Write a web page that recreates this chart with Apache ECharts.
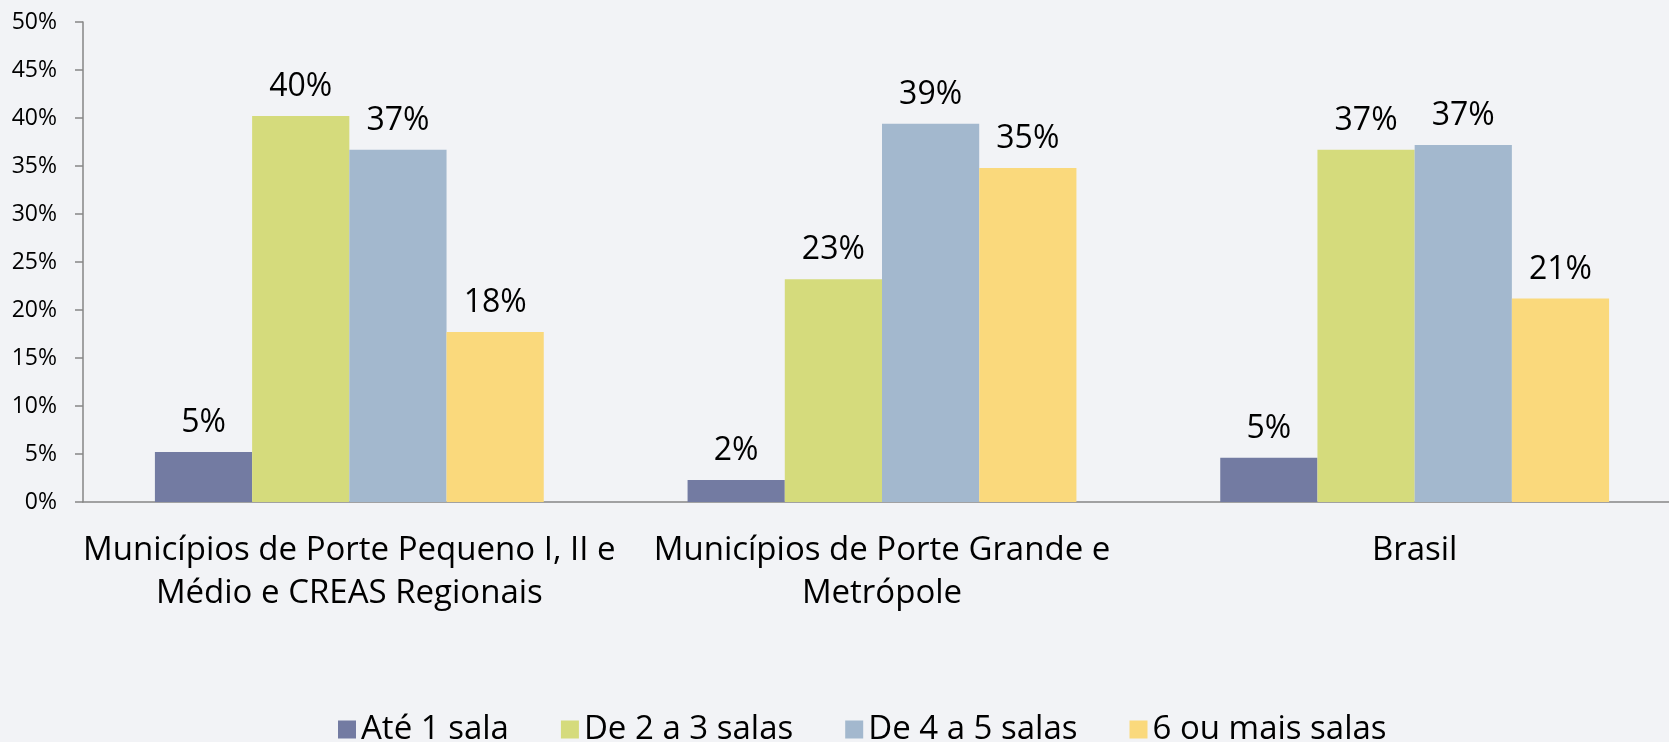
<!DOCTYPE html>
<html>
<head>
<meta charset="utf-8">
<script src="https://cdn.jsdelivr.net/npm/echarts@6/dist/echarts.min.js"></script>
<style>
  html, body { margin: 0; padding: 0; background: #f2f3f6; }
  #chart { width: 1669px; height: 742px; }
</style>
</head>
<body>
<div id="chart"></div>
<script>
const categories = [
  "Municípios de Porte Pequeno I, II e\nMédio e CREAS Regionais",
  "Municípios de Porte Grande e\nMetrópole",
  "Brasil"
];
const seriesNames = ["Até 1 sala", "De 2 a 3 salas", "De 4 a 5 salas", "6 ou mais salas"];
const ate1 = [5.2, 2.3, 4.6];
const de2a3 = [40.2, 23.2, 36.7];
const de4a5 = [36.7, 39.4, 37.2];
const seisMais = [17.7, 34.8, 21.2];
const labels = [
  ["5%", "2%", "5%"],
  ["40%", "23%", "37%"],
  ["37%", "39%", "37%"],
  ["18%", "35%", "21%"]
];
const colors = ["#737ba2", "#d5db7c", "#a3b8ce", "#fad97c"];

const font = "'Open Sans', sans-serif";
const chart = echarts.init(document.getElementById("chart"));

const values = [ate1, de2a3, de4a5, seisMais];

chart.setOption({
  backgroundColor: "#f2f3f6",
  animation: false,
  grid: { left: 83, width: 1598, top: 22, bottom: 240, outerBoundsMode: "none" },
  legend: {
    data: seriesNames,
    bottom: -9,
    left: 333,
    itemWidth: 18,
    itemHeight: 18,
    itemGap: 52,
    icon: "rect",
    textStyle: { fontFamily: font, fontSize: 33, color: "#000" }
  },
  xAxis: {
    type: "category",
    data: categories,
    axisLine: { lineStyle: { color: "#868686", width: 1.5 } },
    axisTick: { length: 13, lineStyle: { color: "#868686", width: 1.5 } },
    axisLabel: {
      fontFamily: font, fontSize: 33, color: "#000",
      margin: 27, lineHeight: 43, interval: 0
    }
  },
  yAxis: {
    type: "value",
    min: 0,
    max: 50,
    interval: 5,
    splitLine: { show: false },
    axisLine: { show: true, lineStyle: { color: "#868686", width: 1.5 } },
    axisTick: { show: true, length: 8, lineStyle: { color: "#868686", width: 1.5 } },
    axisLabel: {
      fontFamily: font, fontSize: 23, color: "#000", margin: 26,
      formatter: v => v + "%"
    }
  },
  series: seriesNames.map((name, i) => ({
    name: name,
    type: "bar",
    data: values[i],
    barGap: "0%",
    barCategoryGap: "27%",
    itemStyle: { color: colors[i] },
    label: {
      show: true,
      position: "top",
      distance: 13,
      fontFamily: font,
      fontSize: 32,
      color: "#000",
      formatter: p => labels[i][p.dataIndex]
    }
  }))
});
</script>
</body>
</html>
